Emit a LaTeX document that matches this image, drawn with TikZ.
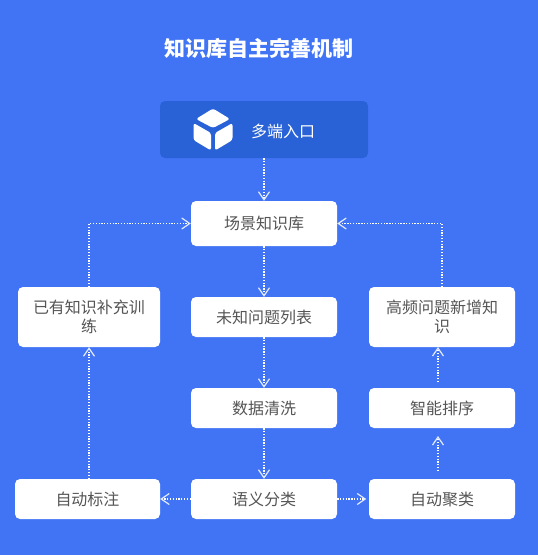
\documentclass[tikz,border=0pt]{standalone}
\usepackage{fontspec}
\setmainfont{Noto Sans CJK SC}
\usetikzlibrary{arrows.meta}
\definecolor{bgblue}{RGB}{65,116,245}
\definecolor{entryblue}{RGB}{41,98,214}
\definecolor{boxtext}{RGB}{85,85,85}
\tikzset{
  box/.style={draw=none,fill=white,rounded corners=5,inner sep=0,text=boxtext,align=center,
    font=\fontsize{16}{19}\selectfont},
  flow/.style={draw=white,line width=1.3,dash pattern=on 1.3pt off 1.5pt,
    -{Straight Barb[length=8,width=11,line width=1.2,color=white!85!bgblue]}},
  cubeface/.style={fill=white,rounded corners=2.5}
}
\begin{document}
\begin{tikzpicture}[x=1pt,y=-1pt]
        \useasboundingbox[fill=bgblue](0,0) rectangle(538,555);
        %titolo
        \node (title) at (259,48) [text=white,font=\fontsize{21}{25}\selectfont\bfseries]{知识库自主完善机制};
        %ingresso
        \node (entry) at (264,129.5) [box,fill=entryblue,minimum width=208,minimum height=57]{};
        \node (entrytext) at (283,131.5) [text=white,inner sep=0,font=\fontsize{16}{19}\selectfont]{多端入口};
        %cubo
        \fill[cubeface](213,108.5)--(230,119)--(213,128)--(196,119)--cycle;
        \fill[cubeface](193.5,123)--(211,133)--(211,150.5)--(193.5,140)--cycle;
        \fill[cubeface](232.5,123)--(215,133)--(215,150.5)--(232.5,140)--cycle;
        %colonna centrale
        \node (scene) at (264,223.5) [box,minimum width=146,minimum height=45]{场景知识库};
        \node (unknown) at (264,317) [box,minimum width=146,minimum height=40]{未知问题列表};
        \node (clean) at (264,408) [box,minimum width=146,minimum height=40]{数据清洗};
        \node (classify) at (264,499) [box,minimum width=146,minimum height=40]{语义分类};
        %colonna sinistra
        \node (supplement) at (89,317) [box,minimum width=142,minimum height=60]{已有知识补充训\\练};
        \node (annotate) at (87.5,499) [box,minimum width=145,minimum height=40]{自动标注};
        %colonna destra
        \node (newknow) at (442,317) [box,minimum width=146,minimum height=60]{高频问题新增知\\识};
        \node (rank) at (442,408) [box,minimum width=146,minimum height=40]{智能排序};
        \node (cluster) at (442,499) [box,minimum width=146,minimum height=40]{自动聚类};
        %estremi liberi
        \coordinate (clusterup) at (438,471);
        \coordinate (rankdown) at (438,436);
        \coordinate (rankup) at (438,382);
        \coordinate (newdown) at (438,347);
        %frecce
        \draw[flow](entry.south)--(scene.north);
        \draw[flow](scene.south)--(unknown.north);
        \draw[flow](unknown.south)--(clean.north);
        \draw[flow](clean.south)--(classify.north);
        \draw[flow](classify.west)--(annotate.east);
        \draw[flow,shorten >=2.5](classify.east)--(cluster.west);
        \draw[flow](clusterup)--(rankdown);
        \draw[flow](rankup)--(newdown);
        \draw[flow](annotate.north -| supplement.south)--(supplement.south);
        \draw[flow](supplement.north) |- (scene.west);
        \draw[flow](newknow.north) |- (scene.east);
    \end{tikzpicture}
\end{document}
